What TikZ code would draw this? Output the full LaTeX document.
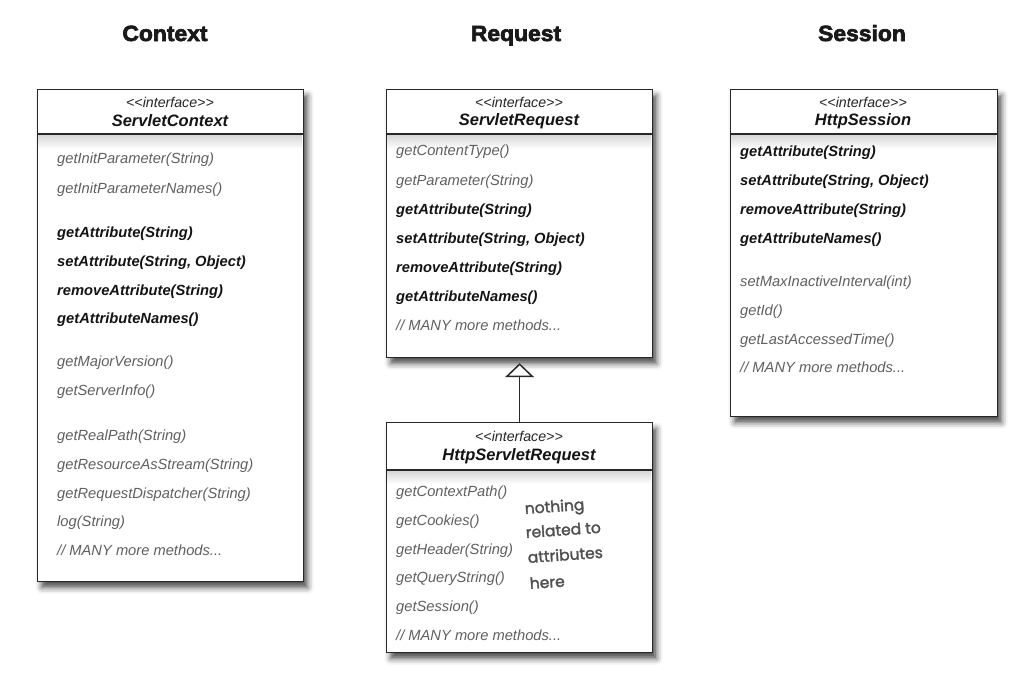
\documentclass[tikz,border=0pt]{standalone}
\usepackage{fontspec}
\setmainfont{Liberation Sans}
\newfontfamily\handfont{Poppins}[FakeBold=1.8]
\newfontfamily\titlefont{Liberation Sans}[BoldFeatures={FakeBold=3,FakeStretch=1.04}]
\usetikzlibrary{shadows.blur,arrows.meta}
\definecolor{methgray}{RGB}{96,96,96}
\definecolor{boxline}{RGB}{40,40,40}
\definecolor{notegray}{RGB}{80,80,80}
\newcommand{\umlMeth}{\fontsize{14.7}{17}\selectfont\itshape}
\newcommand{\umlBMeth}{\fontsize{14.7}{17}\selectfont\bfseries\itshape}
\newcommand{\umlStereo}{\fontsize{14.2}{16}\selectfont\itshape}
\newcommand{\umlName}{\fontsize{16.5}{19}\selectfont\bfseries\itshape}
\newcommand{\umlTitle}{\fontsize{22}{26}\selectfont\titlefont\bfseries}
\newcommand{\umlHand}{\fontsize{15.5}{18}\selectfont\handfont}
\newcommand{\stereotxt}{<\kern0pt<interface>\kern0pt>}
\tikzset{
  umlbox/.style={draw=boxline, line width=1.2pt, fill=white, inner sep=0,
    blur shadow={shadow xshift=4pt, shadow yshift=-6pt, shadow blur radius=6pt, shadow opacity=70}},
  divider/.style={draw=boxline, line width=1.1pt},
  headshade/.style={top color=black!16, bottom color=white, draw=none},
  meth/.style={anchor=base west, inner sep=0, font=\umlMeth, text=methgray},
  bmeth/.style={anchor=base west, inner sep=0, font=\umlBMeth, text=black!92},
  stereo/.style={inner sep=0, font=\umlStereo, text=black!85},
  cname/.style={inner sep=0, font=\umlName, text=black!92},
  ttl/.style={anchor=base, inner sep=0, font=\umlTitle, text=black!90},
  hand/.style={anchor=base west, inner sep=0, font=\umlHand, text=notegray, rotate=4},
  inherit/.style={draw=boxline, line width=1.5pt, -{Triangle[width=29pt,length=14pt,fill=white,line width=1.5pt]}, shorten >=5pt}
}
\begin{document}
\begin{tikzpicture}[x=1pt,y=-1pt]
\useasboundingbox (0,0) rectangle (1023,673);

% titles
\node[ttl] (tctx) at (165,41) {Context};
\node[ttl] (treq) at (516,41) {Request};
\node[ttl] (tses) at (862,41) {Session};

% boxes
\node[umlbox, anchor=north west, minimum width=266, minimum height=492] (ctx) at (37,89) {};
\node[umlbox, anchor=north west, minimum width=266, minimum height=268] (sr) at (386,89) {};
\node[umlbox, anchor=north west, minimum width=267, minimum height=327] (hs) at (730,89) {};
\node[umlbox, anchor=north west, minimum width=266, minimum height=230] (hsr) at (386,422) {};

% header shading and dividers
\fill[headshade] (38,135) rectangle (302,149);
\fill[headshade] (387,135) rectangle (651,149);
\fill[headshade] (731,135) rectangle (996,149);
\fill[headshade] (387,471) rectangle (651,484);
\draw[divider] (37,134) -- (303,134);
\draw[divider] (386,134) -- (652,134);
\draw[divider] (730,134) -- (997,134);
\draw[divider] (386,470) -- (652,470);

% headers
\node[stereo] (sctx) at (170,102) {\stereotxt};
\node[cname] (nctx) at (170,121) {ServletContext};
\node[stereo] (ssr) at (519,102) {\stereotxt};
\node[cname] (nsr) at (519,121) {ServletRequest};
\node[stereo] (shs) at (863,102) {\stereotxt};
\node[cname] (nhs) at (863,121) {HttpSession};
\node[stereo] (shsr) at (519,436) {\stereotxt};
\node[cname] (nhsr) at (519,456) {HttpServletRequest};

% ServletContext methods
\node[meth]  (c1)  at (57,163) {getInitParameter(String)};
\node[meth]  (c2)  at (57,193) {getInitParameterNames()};
\node[bmeth] (c3)  at (57,237) {getAttribute(String)};
\node[bmeth] (c4)  at (57,266) {setAttribute(String, Object)};
\node[bmeth] (c5)  at (57,295) {removeAttribute(String)};
\node[bmeth] (c6)  at (57,323) {getAttributeNames()};
\node[meth]  (c7)  at (57,366) {getMajorVersion()};
\node[meth]  (c8)  at (57,395) {getServerInfo()};
\node[meth]  (c9)  at (57,440) {getRealPath(String)};
\node[meth]  (c10) at (57,469) {getResourceAsStream(String)};
\node[meth]  (c11) at (57,498) {getRequestDispatcher(String)};
\node[meth]  (c12) at (57,526) {log(String)};
\node[meth]  (c13) at (57,555) {// MANY more methods...};

% ServletRequest methods
\node[meth]  (r1) at (396,155) {getContentType()};
\node[meth]  (r2) at (396,185) {getParameter(String)};
\node[bmeth] (r3) at (396,214) {getAttribute(String)};
\node[bmeth] (r4) at (396,243) {setAttribute(String, Object)};
\node[bmeth] (r5) at (396,272) {removeAttribute(String)};
\node[bmeth] (r6) at (396,301) {getAttributeNames()};
\node[meth]  (r7) at (396,330) {// MANY more methods...};

% HttpSession methods
\node[bmeth] (s1) at (740,156) {getAttribute(String)};
\node[bmeth] (s2) at (740,185) {setAttribute(String, Object)};
\node[bmeth] (s3) at (740,214) {removeAttribute(String)};
\node[bmeth] (s4) at (740,243) {getAttributeNames()};
\node[meth]  (s5) at (740,286) {setMaxInactiveInterval(int)};
\node[meth]  (s6) at (740,315) {getId()};
\node[meth]  (s7) at (740,344) {getLastAccessedTime()};
\node[meth]  (s8) at (740,372) {// MANY more methods...};

% HttpServletRequest methods
\node[meth] (h1) at (396,496) {getContextPath()};
\node[meth] (h2) at (396,525) {getCookies()};
\node[meth] (h3) at (396,554) {getHeader(String)};
\node[meth] (h4) at (396,582) {getQueryString()};
\node[meth] (h5) at (396,611) {getSession()};
\node[meth] (h6) at (396,640) {// MANY more methods...};

% handwritten note
\node[hand] (n1) at (525,514) {nothing};
\node[hand] (n2) at (526,538) {related to};
\node[hand] (n3) at (528,563) {attributes};
\node[hand] (n4) at (530,589) {here};

% inheritance
\draw[inherit] (hsr.north) -- (sr.south);
\end{tikzpicture}
\end{document}
